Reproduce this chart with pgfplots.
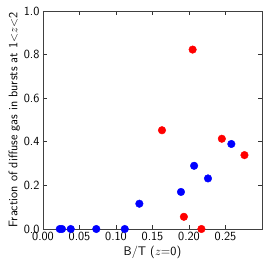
\documentclass[border=0pt]{standalone}
\usepackage{fontspec}
\usepackage{pgfplots}
\pgfplotsset{compat=1.18}
\begin{document}
\begin{tikzpicture}[x=1bp,y=1bp]
\path[use as bounding box] (-43,-44) rectangle (230,229);
\begin{axis}[
  at={(0,0)}, anchor=south west,
  scale only axis, width=219bp, height=218bp,
  xmin=0, xmax=0.3, ymin=0, ymax=1,
  xtick={0,0.05,0.1,0.15,0.2,0.25},
  xticklabels={0.00,0.05,0.10,0.15,0.20,0.25},
  ytick={0,0.2,0.4,0.6,0.8,1.0},
  yticklabels={0.0,0.2,0.4,0.6,0.8,1.0},
  tick align=inside, major tick length=4bp,
  tick style={black!80, line width=0.8pt},
  axis line style={black!75, line width=1pt},
  ticklabel style={font=\sffamily\fontsize{12.5}{14}\selectfont},
  xticklabel style={yshift=0bp},
  label style={font=\sffamily\fontsize{12.5}{14}\selectfont},
  xlabel={B/T ($z$=0)},
  ylabel={Fraction of diffuse gas in bursts at 1$<$$z$$<$2},
  xlabel style={yshift=2bp},
  ylabel style={yshift=-3bp},
  clip=false,
]
\addplot[only marks, mark=*, mark size=3.8bp, blue, mark options={draw=blue, fill=blue}] coordinates {
(0.023,0) (0.026,0) (0.038,0) (0.073,0) (0.112,0)
(0.132,0.116) (0.189,0.170) (0.207,0.290) (0.226,0.232) (0.258,0.390)
};
\addplot[only marks, mark=*, mark size=3.8bp, red, mark options={draw=red, fill=red}] coordinates {
(0.205,0.823) (0.163,0.453) (0.245,0.414) (0.276,0.339) (0.193,0.056) (0.217,0.0)
};
\end{axis}
\end{tikzpicture}
\end{document}
